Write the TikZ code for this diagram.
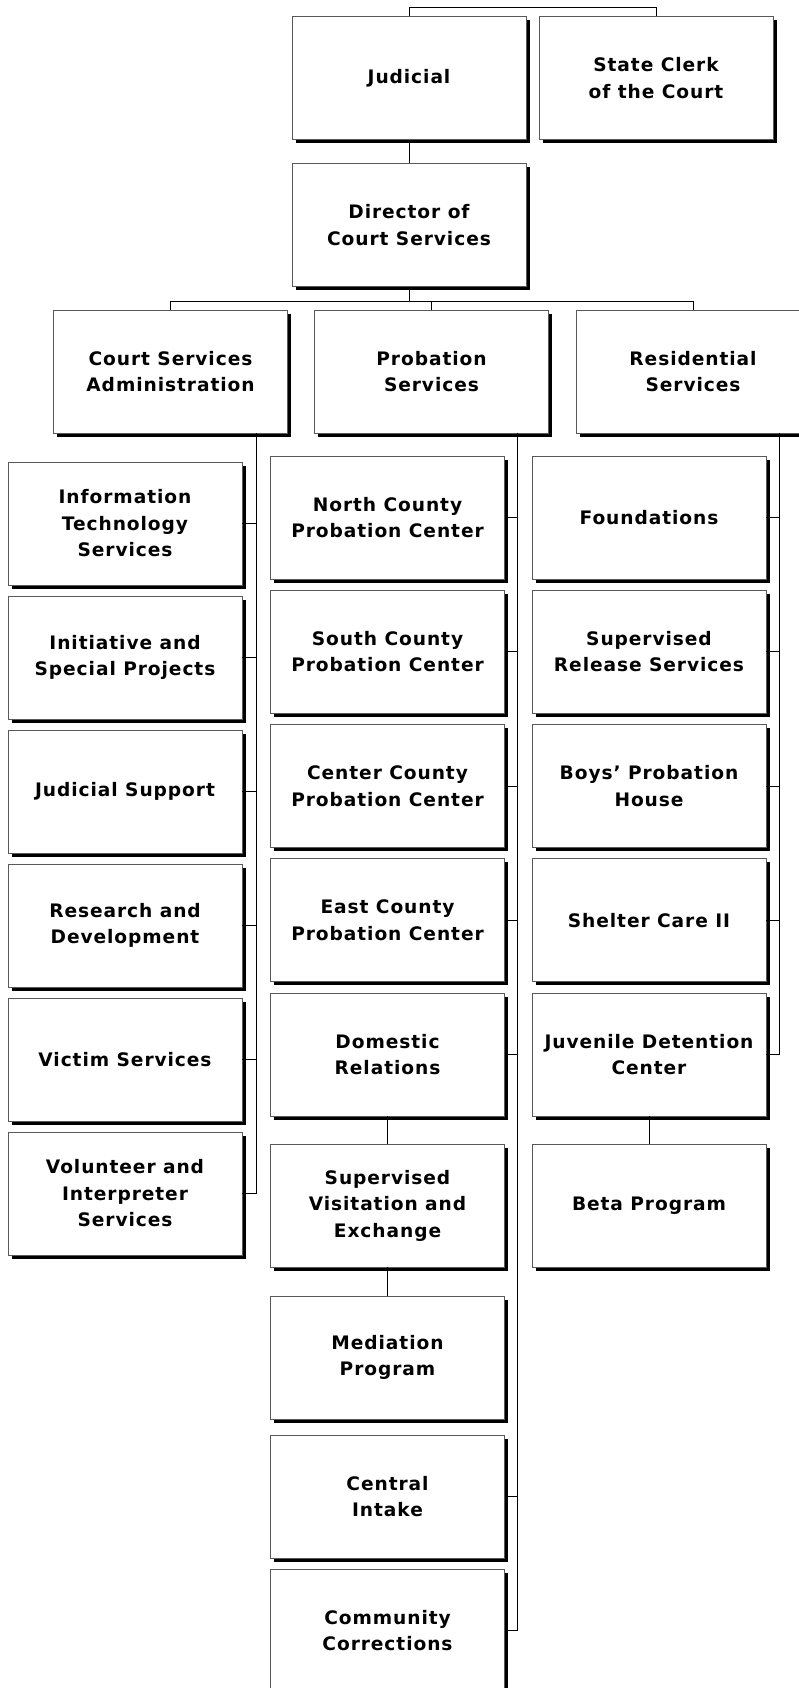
\documentclass[tikz,border=0pt]{standalone}
\usepackage{fontspec}
\setmainfont{DejaVu Sans}[LetterSpace=5]
\usetikzlibrary{shadows}

\begin{document}
\begin{tikzpicture}[x=1pt,y=-1pt,
    orgbox/.style={draw=black!65,line width=0.8pt,fill=white,inner sep=0pt,
        minimum width=234pt,minimum height=123pt,align=center,
        font=\fontsize{18.6}{26.5}\selectfont\bfseries,
        drop shadow={shadow xshift=3.5pt,shadow yshift=-3.5pt,fill=black,opacity=1}},
    link/.style={draw,line width=0.8pt}]
    \useasboundingbox (0,0) rectangle (799,1688);

    % top
    \node[orgbox] (jud)   at (409,78) {Judicial};
    \node[orgbox] (clerk) at (656,78) {State Clerk\\of the Court};
    \node[orgbox] (dir)   at (409,225) {Director of\\Court Services};

    \node[orgbox] (csa)  at (170.5,371.5) {Court Services\\Administration};
    \node[orgbox] (prob) at (431.5,371.5) {Probation\\Services};
    \node[orgbox] (res)  at (693,371.5) {Residential\\Services};

    % administration
    \node[orgbox] (it)   at (125,523.5)  {Information\\Technology\\Services};
    \node[orgbox] (isp)  at (125,657.5)  {Initiative and\\Special Projects};
    \node[orgbox] (jsup) at (125,791.5)  {Judicial Support};
    \node[orgbox] (rnd)  at (125,925.5)  {Research and\\Development};
    \node[orgbox] (vict) at (125,1059.5) {Victim Services};
    \node[orgbox] (vol)  at (125,1193.5) {Volunteer and\\Interpreter\\Services};

    % probation
    \node[orgbox] (ncpc) at (387.5,517.5)  {North County\\Probation Center};
    \node[orgbox] (scpc) at (387.5,651.75) {South County\\Probation Center};
    \node[orgbox] (ccpc) at (387.5,786)    {Center County\\Probation Center};
    \node[orgbox] (ecpc) at (387.5,920.25) {East County\\Probation Center};
    \node[orgbox] (dom)  at (387.5,1054.5) {Domestic\\Relations};
    \node[orgbox] (svis) at (387.5,1205.5) {Supervised\\Visitation and\\Exchange};
    \node[orgbox] (med)  at (387.5,1357.5) {Mediation\\Program};
    \node[orgbox] (cint) at (387.5,1496.5) {Central\\Intake};
    \node[orgbox] (comm) at (387.5,1630.5) {Community\\Corrections};

    % residential
    \node[orgbox] (found) at (649,517.5)  {Foundations};
    \node[orgbox] (srel)  at (649,651.75) {Supervised\\Release Services};
    \node[orgbox] (boys)  at (649,786)    {Boys{\char39} Probation\\House};
    \node[orgbox] (shel)  at (649,920.25) {Shelter Care II};
    \node[orgbox] (juv)   at (649,1054.5) {Juvenile Detention\\Center};
    \node[orgbox] (beta)  at (649,1205.5) {Beta Program};

    % links
    \coordinate (tb) at (0,7);
    \coordinate (db) at (0,301);
    \coordinate (ltr) at (256.5,0);
    \coordinate (mtr) at (517,0);
    \coordinate (rtr) at (779,0);

    \draw[link] (jud.north) -- (jud.north |- tb) -| (clerk.north);
    \draw[link] (jud.south) -- (dir.north);
    \draw[link] (dir.south) -- (dir.south |- db);
    \draw[link] (csa.north) |- (db -| res.north) -- (res.north);
    \draw[link] (prob.north) -- (prob.north |- db);

    \draw[link] (csa.south -| ltr) |- (vol.east);
    \draw[link] (it.east) -- (it.east -| ltr);
    \draw[link] (isp.east) -- (isp.east -| ltr);
    \draw[link] (jsup.east) -- (jsup.east -| ltr);
    \draw[link] (rnd.east) -- (rnd.east -| ltr);
    \draw[link] (vict.east) -- (vict.east -| ltr);

    \draw[link] (prob.south -| mtr) |- (comm.east);
    \draw[link] (ncpc.east) -- (ncpc.east -| mtr);
    \draw[link] (scpc.east) -- (scpc.east -| mtr);
    \draw[link] (ccpc.east) -- (ccpc.east -| mtr);
    \draw[link] (ecpc.east) -- (ecpc.east -| mtr);
    \draw[link] (dom.east) -- (dom.east -| mtr);
    \draw[link] (cint.east) -- (cint.east -| mtr);
    \draw[link] (dom.south) -- (svis.north);
    \draw[link] (svis.south) -- (med.north);

    \draw[link] (res.south -| rtr) |- (juv.east);
    \draw[link] (found.east) -- (found.east -| rtr);
    \draw[link] (srel.east) -- (srel.east -| rtr);
    \draw[link] (boys.east) -- (boys.east -| rtr);
    \draw[link] (shel.east) -- (shel.east -| rtr);
    \draw[link] (juv.south) -- (beta.north);
\end{tikzpicture}
\end{document}
